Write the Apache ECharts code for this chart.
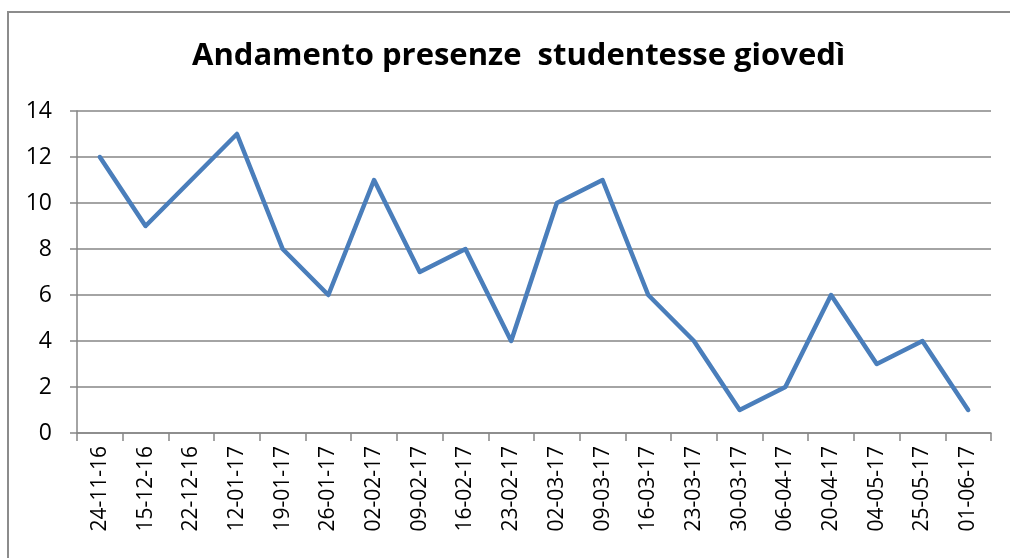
<!DOCTYPE html>
<html>
<head>
<meta charset="utf-8">
<script src="https://cdn.jsdelivr.net/npm/echarts@6/dist/echarts.min.js"></script>
<style>
  html, body { margin: 0; padding: 0; background: #fff; }
  #chart { width: 1010px; height: 558px; }
</style>
</head>
<body>
<div id="chart"></div>
<script>
// date dei giovedì
var dates = ['24-11-16','15-12-16','22-12-16','12-01-17','19-01-17','26-01-17','02-02-17','09-02-17',
    '16-02-17','23-02-17','02-03-17','09-03-17','16-03-17','23-03-17','30-03-17','06-04-17',
    '20-04-17','04-05-17','25-05-17','01-06-17'];
// numero studentesse presenti
var presenze = [12, 9, 11, 13, 8, 6, 11, 7, 8, 4, 10, 11, 6, 4, 1, 2, 6, 3, 4, 1];
var yTicks = [0, 2, 4, 6, 8, 10, 12, 14];

var FONT = '"Open Sans", "Liberation Sans", sans-serif';
var chart = echarts.init(document.getElementById('chart'));

var option = {
    animation: false,
    backgroundColor: '#fff',
    title: {
        text: 'Andamento presenze  studentesse giovedì',
        left: 187,
        top: 36,
        textStyle: { fontFamily: FONT, fontWeight: 'bold', fontSize: 31, color: '#000' }
    },
    graphic: [{
        type: 'rect',
        shape: { x: 8, y: 12, width: 1010, height: 560 },
        style: { fill: null, stroke: '#8c8c8c', lineWidth: 2 },
        silent: true
    }],
    grid: { left: 77, right: 19, top: 111, bottom: 125 },
    xAxis: {
        type: 'category',
        data: dates,
        boundaryGap: true,
        axisLine: { lineStyle: { color: '#868686', width: 1.5 } },
        axisTick: { show: true, length: 8, interval: 0, lineStyle: { color: '#868686', width: 1.5 } },
        axisLabel: { rotate: 90, interval: 0, margin: 13, fontFamily: FONT, fontSize: 21, color: '#000' }
    },
    yAxis: {
        type: 'value',
        min: yTicks[0],
        max: yTicks[yTicks.length - 1],
        interval: 2,
        axisLine: { show: true, lineStyle: { color: '#868686', width: 1.5 } },
        axisTick: { show: true, length: 7, lineStyle: { color: '#868686', width: 1.5 } },
        axisLabel: { margin: 25, fontFamily: FONT, fontSize: 23, color: '#000' },
        splitLine: { lineStyle: { color: '#868686', width: 1.5 } }
    },
    series: [{
        type: 'line',
        data: presenze,
        showSymbol: false,
        lineStyle: { color: '#4a7ebb', width: 4.5, cap: 'round', join: 'round' },
        itemStyle: { color: '#4a7ebb' }
    }]
};
chart.setOption(option);
</script>
</body>
</html>
